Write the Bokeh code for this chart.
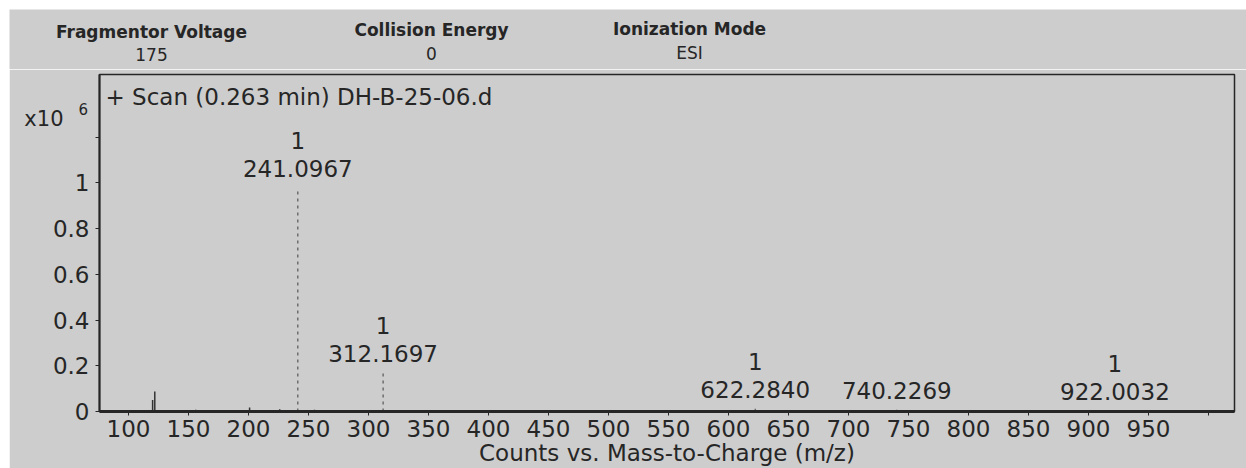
from bokeh.plotting import figure
from bokeh.layouts import column
from bokeh.models import Label, FixedTicker, Range1d, ColumnDataSource
from bokeh.core.properties import value
from bokeh.embed import file_html
from bokeh.resources import INLINE

# ---- data (x10^6 counts) ----
peak_mz = [241.0967, 312.1697, 622.2840, 740.2269, 922.0032]
peak_int = [0.98, 0.17, 0.012, 0.008, 0.006]
peak_charge = ["1", "1", "1", "", "1"]
peak_text = ["241.0967", "312.1697", "622.2840", "740.2269", "922.0032"]

noise_mz = [120.1, 121.9, 156.0, 200.9, 226.0, 255.0, 283.0, 400.0]
noise_int = [0.05, 0.087, 0.008, 0.018, 0.01, 0.008, 0.006, 0.005]

x_ticks = [100, 150, 200, 250, 300, 350, 400, 450, 500, 550, 600, 650, 700,
           750, 800, 850, 900, 950, 1000]
y_ticks = [0, 0.2, 0.4, 0.6, 0.8, 1, 1.2]
y_labels = ["0", "0.2", "0.4", "0.6", "0.8", "1", ""]

header_titles = ["Fragmentor Voltage", "Collision Energy", "Ionization Mode"]
header_values = ["175", "0", "ESI"]

BG = "#cdcdcd"
INK = "#262626"
FONT = "DejaVu Sans"

# ---- header strip (page coordinates) ----
hx = [151, 431, 689]
hy_t = [31, 29, 28]
hy_v = [54, 53, 52]
head = figure(width=1237, height=60, output_backend="svg", toolbar_location=None,
              x_range=Range1d(9, 1246), y_range=Range1d(69, 9),
              x_axis_location=None, y_axis_location=None,
              min_border=0)
head.frame_align = False
head.background_fill_color = BG
head.border_fill_color = BG
head.outline_line_color = None
head.grid.visible = False
head.text(x=hx, y=hy_t, text=header_titles, text_font=value(FONT),
          text_font_size="17px", text_font_style="bold", text_color=INK,
          text_align="center", text_baseline="middle")
head.text(x=hx, y=hy_v, text=header_values, text_font=value(FONT),
          text_font_size="17px", text_color=INK,
          text_align="center", text_baseline="middle")

# ---- main spectrum ----
p = figure(width=1237, height=399, output_backend="svg", toolbar_location=None,
           x_range=Range1d(75.83, 1021.67), y_range=Range1d(0, 1.474),
           min_border_left=90, min_border_right=12, min_border_top=5,
           min_border_bottom=56)
p.frame_align = False
p.background_fill_color = BG
p.border_fill_color = BG
p.outline_line_color = INK
p.outline_line_width = 1.5
p.grid.visible = False

p.xaxis.ticker = FixedTicker(ticks=x_ticks)
p.xaxis.major_label_overrides = {1000: ""}
p.yaxis.ticker = FixedTicker(ticks=y_ticks)
p.yaxis.major_label_overrides = {t: l for t, l in zip(y_ticks, y_labels)}
for ax in (p.xaxis[0], p.yaxis[0]):
    ax.major_label_text_font = FONT
    ax.major_label_text_font_size = "23px"
    ax.major_label_text_color = INK
    ax.axis_line_color = INK
    ax.major_tick_line_color = INK
    ax.major_tick_in = 0
    ax.major_tick_out = 4
    ax.minor_tick_line_color = None
p.xaxis.axis_line_width = 3
p.yaxis.axis_line_width = 2
p.xaxis.major_label_standoff = 4
p.yaxis.major_label_standoff = 6
p.xaxis.axis_label = "Counts vs. Mass-to-Charge (m/z)"
p.xaxis.axis_label_text_font = FONT
p.xaxis.axis_label_text_font_size = "23px"
p.xaxis.axis_label_text_font_style = "normal"
p.xaxis.axis_label_text_color = INK
p.xaxis.axis_label_standoff = 0

src = ColumnDataSource(dict(x=peak_mz, y=peak_int, ch=peak_charge, t=peak_text,
                            y0=[0] * len(peak_mz)))
p.segment(x0="x", y0="y0", x1="x", y1="y", source=src, line_color="#555555",
          line_width=1.2, line_dash="3 4")
nsrc = ColumnDataSource(dict(x=noise_mz, y=noise_int, y0=[0] * len(noise_mz)))
p.segment(x0="x", y0="y0", x1="x", y1="y", source=nsrc, line_color="#333333",
          line_width=1.5)

p.text(x="x", y="y", text="t", source=src, text_font=value(FONT),
       text_font_size="23px", text_color=INK, text_align="center",
       text_baseline="middle", y_offset=-19)
p.text(x="x", y="y", text="ch", source=src, text_font=value(FONT),
       text_font_size="23px", text_color=INK, text_align="center",
       text_baseline="middle", y_offset=-47)

# frame: left=99, bottom=412 on the page
p.add_layout(Label(x=105 - 99, y=412 - 97, x_units="screen", y_units="screen",
                   text="+ Scan (0.263 min) DH-B-25-06.d", text_font=FONT,
                   text_font_size="23px", text_color=INK, text_align="left",
                   text_baseline="middle"))

# exponent, placed in side panels so it is not clipped to the frame
p.add_layout(Label(x=53, y=412 - 119, x_units="screen", y_units="screen", text="x10",
                   text_font=FONT, text_font_size="21px", text_color=INK,
                   text_align="right", text_baseline="middle"), "left")
p.add_layout(Label(x=78 - 1234, y=412 - 109, x_units="screen", y_units="screen",
                   text="6", text_font=FONT, text_font_size="15px", text_color=INK,
                   text_align="left", text_baseline="middle"), "right")

layout = column(head, p, spacing=0)
layout.margin = (9, 0, 0, 9)

open("out.html", "w").write(file_html(layout, INLINE))
